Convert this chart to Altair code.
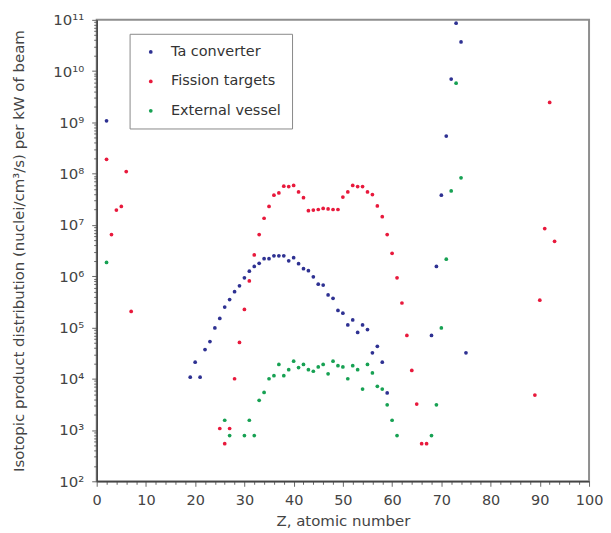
import json
import altair as alt
import pandas as pd

# ---- data ----
ta_z = [2, 19, 20, 21, 22, 23, 24, 25, 26, 27, 28, 29, 30, 31, 32, 33, 34, 35, 36, 37,
        38, 39, 40, 41, 42, 43, 44, 45, 46, 47, 48, 49, 50, 51, 52, 53, 54, 55, 56, 57,
        58, 59, 68, 69, 70, 71, 72, 73, 74, 75]
ta_v = [1.07e9, 1.07e4, 2.1e4, 1.07e4, 3.7e4, 5.3e4, 9.8e4, 1.5e5, 2.5e5, 3.5e5,
        5e5, 6.5e5, 9.3e5, 1.25e6, 1.55e6, 1.78e6, 2.2e6, 2.2e6, 2.5e6, 2.5e6,
        2.5e6, 2.0e6, 2.3e6, 1.75e6, 1.4e6, 1.28e6, 9.7e5, 7e5, 6.7e5, 4.3e5,
        3.7e5, 2.15e5, 1.9e5, 1.12e5, 1.4e5, 8e4, 1.12e5, 9.1e4, 3.2e4, 4.3e4,
        2.1e4, 5.3e3, 7e4, 1.55e6, 3.8e7, 5.4e8, 7e9, 8.6e10, 3.7e10, 3.2e4]

fi_z = [2, 3, 4, 5, 6, 7, 25, 26, 27, 28, 29, 30, 31, 32, 33, 34, 35, 36, 37, 38,
        39, 40, 41, 42, 43, 44, 45, 46, 47, 48, 49, 50, 51, 52, 53, 54, 55, 56, 57, 58,
        59, 60, 61, 62, 63, 64, 65, 66, 67, 89, 90, 91, 92, 93]
fi_v = [1.9e8, 6.5e6, 1.95e7, 2.3e7, 1.1e8, 2.05e5, 1.07e3, 5.4e2, 1.07e3, 1.0e4,
        5.1e4, 2.25e5, 8.1e5, 2.6e6, 6.5e6, 1.35e7, 2.3e7, 3.8e7, 4.2e7, 5.7e7,
        5.6e7, 5.9e7, 4.4e7, 3.4e7, 1.9e7, 1.95e7, 2e7, 2.1e7, 2.05e7, 2e7,
        2e7, 3.5e7, 4.4e7, 5.9e7, 5.6e7, 5.6e7, 4.4e7, 3.9e7, 2.35e7, 1.45e7,
        6.5e6, 2.8e6, 9.3e5, 3e5, 7e4, 1.45e4, 3.2e3, 5.4e2, 5.4e2, 4.8e3,
        3.4e5, 8.5e6, 2.45e9, 4.8e6]

ev_z = [2, 26, 27, 30, 31, 32, 33, 34, 35, 36, 37, 38, 39, 40, 41, 42, 43, 44, 45, 46,
        47, 48, 49, 50, 51, 52, 53, 54, 55, 56, 57, 58, 59, 60, 61, 68, 69, 70, 71, 72,
        73, 74]
ev_v = [1.86e6, 1.55e3, 7.8e2, 7.8e2, 1.55e3, 7.8e2, 3.8e3, 5.4e3, 1e4, 1.15e4,
        1.9e4, 1.15e4, 1.5e4, 2.2e4, 1.65e4, 1.9e4, 1.5e4, 1.4e4, 1.7e4, 1.9e4,
        1.25e4, 2.2e4, 1.8e4, 1.7e4, 1e4, 1.8e4, 1.5e4, 6.3e3, 1.9e4, 1.3e4,
        7.1e3, 6.3e3, 3.1e3, 1.55e3, 7.8e2, 7.8e2, 3.1e3, 9.8e4, 2.15e6, 4.6e7,
        5.8e9, 8.3e7]

series_names = ["Ta converter", "Fission targets", "External vessel"]
series_colors = ["#2e3192", "#e8193c", "#17a153"]

x_ticks = list(range(0, 101, 2))
y_ticks = [k * 10 ** d for d in range(2, 11) for k in range(1, 10)] + [10 ** 11]
y_labels = ["10²", "10³", "10⁴", "10⁵", "10⁶", "10⁷", "10⁸", "10⁹", "10¹⁰", "10¹¹"]

frames = []
for name, zs, vs in zip(series_names, [ta_z, fi_z, ev_z], [ta_v, fi_v, ev_v]):
    frames.append(pd.DataFrame({"Z": zs, "value": vs, "series": name}))
df = pd.concat(frames, ignore_index=True)

FONT = "DejaVu Sans"
TXT = "#444444"
W, H = 494, 463

is_major_y = "abs(log(datum.value)/LN10 - round(log(datum.value)/LN10)) < 1e-6"
y_label_expr = (f"{is_major_y} ? {json.dumps(y_labels, ensure_ascii=False)}"
                f"[round(log(datum.value)/LN10) - 2] : ''")

x_axis = alt.Axis(
    values=x_ticks,
    labelExpr="datum.value % 10 == 0 ? datum.label : ''",
    tickSize={"condition": {"test": "datum.value % 10 == 0", "value": 5}, "value": 3},
    labelFlush=False,
    labelOverlap=False,
    labelPadding=7,
    labelFontSize=14.5,
    grid=False,
    title="Z, atomic number",
    titleX=W / 2,
    titleY=39,
    titleBaseline="middle",
    titleAlign="center",
)

y_axis = alt.Axis(
    values=y_ticks,
    labelExpr=y_label_expr,
    tickSize={"condition": {"test": is_major_y, "value": 5}, "value": 3},
    labelFlush=False,
    labelOverlap=False,
    labelPadding=8,
    grid=False,
    title="Isotopic product distribution (nuclei/cm³/s) per kW of beam",
    titleAngle=270,
    titleX=-78,
    titleY=H / 2,
    titleBaseline="middle",
    titleAlign="center",
)

legend = alt.Legend(
    title=None,
    orient="none",
    legendX=33,
    legendY=14,
    padding=11,
    strokeColor="#8a8a8a",
    symbolType="circle",
    symbolSize=14,
    symbolOffset=3,
    labelOffset=13,
    labelFontSize=14.5,
    labelFont=FONT,
    labelColor="#333333",
    rowPadding=14.5,
)

chart = (
    alt.Chart(df)
    .mark_circle(size=14, opacity=1)
    .encode(
        x=alt.X("Z:Q", scale=alt.Scale(domain=[0, 100], nice=False, zero=False), axis=x_axis),
        y=alt.Y("value:Q", scale=alt.Scale(type="log", domain=[1e2, 1e11], nice=False), axis=y_axis),
        color=alt.Color("series:N", scale=alt.Scale(domain=series_names, range=series_colors),
                        legend=legend),
    )
    .properties(
        width=W,
        height=H,
        autosize=alt.AutoSizeParams(type="none"),
        padding={"left": 89, "top": 11, "right": 14, "bottom": 47},
    )
    .configure_view(stroke="#8f8f8f", strokeWidth=2)
    .configure_axis(
        domainColor="#444444",
        domainWidth=1.5,
        tickColor="#666666",
        tickWidth=1,
        labelFont=FONT,
        labelFontSize=15,
        labelColor=TXT,
        titleFont=FONT,
        titleFontSize=15,
        titleFontWeight="normal",
        titleColor=TXT,
    )
)

chart.save("out.html", embed_options={"renderer": "svg", "actions": False})
